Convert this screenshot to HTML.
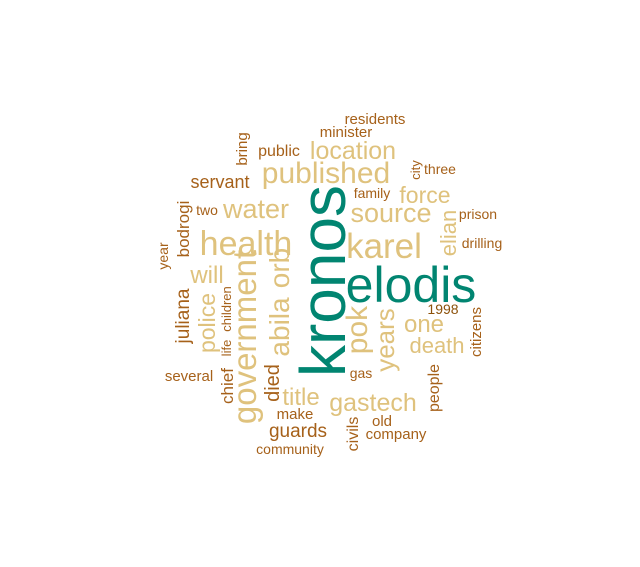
<!DOCTYPE html>
<html><head><meta charset="utf-8"><style>
html,body{margin:0;padding:0;background:#fff;width:640px;height:567px;overflow:hidden}
svg text{font-family:"Liberation Sans",Arial,sans-serif}
</style></head><body>
<svg id="cloud" width="640" height="567" viewBox="0 0 640 567" xmlns="http://www.w3.org/2000/svg"></svg>
<script>
const words=["kronos","elodis","health","karel","published","government","abila","orb","pok","years","one","death","source","force","location","elian","water","will","police","title","gastech","juliana","children","life","chief","several","year","bodrogi","two","servant","bring","public","minister","residents","city","three","family","prison","drilling","1998","citizens","gas","people","civils","old","company","died","make","guards","community"];
const sizes=[64,50,34,35,30,33,28,28,30,26,24,22,27,23,25,22,27,24,23,24,25,19,13,13,17,15,14,17,14,18,15,16,15,15,13,14,14,14,14,14,15,14,16,16,15,15,20,15,19,14];
const groups=[0,0,1,1,1,1,1,1,1,1,1,1,1,1,1,1,1,1,1,1,1,2,2,2,2,2,2,2,2,2,2,2,2,2,2,2,2,2,2,3,2,2,2,2,2,2,2,2,2,2];
const palette=["#018571","#dfc27d","#a6611a","#8c510a"];
// layout: [centerX, baselineY, vertical]
const layout=[[345,281,1],[411,302,0],[246,255,0],[384,258,0],[326,183,0],[256,337,1],[289,327,1],[289,268,1],[367,330,1],[394,340,1],[424,332,0],[437,353,0],[391,222,0],[425,203,0],[353,159,0],[456,233,1],[256,218,0],[207,283,0],[215,323,1],[301,405,0],[373,411,0],[189,316,1],[231,309,1],[231,348,1],[233,386,1],[189,381,0],[168,256,1],[189,229,1],[207,215,0],[220,188,0],[247,149,1],[279,156,0],[346,137,0],[375,124,0],[420,170,1],[440,174,0],[372,198,0],[478,219,0],[482,248,0],[443,314,0],[481,332,1],[361,378,0],[439,388,1],[358,434,1],[382,426,0],[396,439,0],[279,383,1],[295,419,0],[298,437,0],[290,454,0]];
const svg=document.getElementById('cloud');
const NS="http://www.w3.org/2000/svg";
words.forEach((w,i)=>{
  const t=document.createElementNS(NS,'text');
  const [x,y,v]=layout[i];
  t.setAttribute('x',x);t.setAttribute('y',y);
  t.setAttribute('text-anchor','middle');
  t.setAttribute('font-size',sizes[i]);
  t.setAttribute('fill',palette[groups[i]]);
  if(v){t.setAttribute('x',0);t.setAttribute('y',0);t.setAttribute('transform','translate('+x+','+y+') rotate(-90)');}
  t.textContent=w;
  
  
  svg.appendChild(t);
});
</script>
</body></html>
